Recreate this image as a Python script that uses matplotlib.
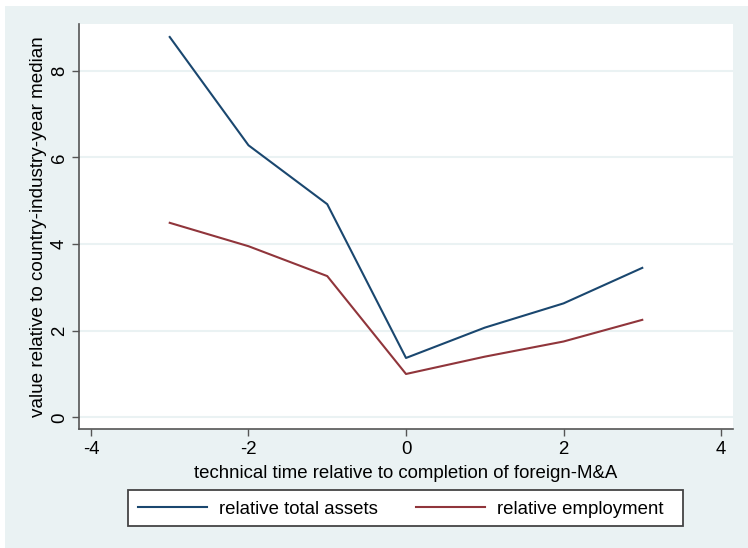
"""Relative total assets and employment around foreign M&A completion."""

import matplotlib

matplotlib.use("Agg")
import matplotlib.pyplot as plt
from matplotlib.patches import Rectangle

BG = "#eaf2f3"
NAVY = "#1a476f"
MAROON = "#90353b"
SPINE = "#555555"

event_time = [-3, -2, -1, 0, 1, 2, 3]
total_assets = [8.78, 6.28, 4.92, 1.37, 2.07, 2.63, 3.45]
employment = [4.49, 3.95, 3.26, 1.00, 1.40, 1.75, 2.25]
x_ticks = [-4, -2, 0, 2, 4]
y_ticks = [0, 2, 4, 6, 8]

plt.rcParams["font.family"] = ["Liberation Sans", "DejaVu Sans"]
plt.rcParams["axes.unicode_minus"] = False

W, H = 748, 548
fig = plt.figure(figsize=(W / 100, H / 100), dpi=100, facecolor="white")
fig.patches.append(
    Rectangle((5 / W, 0), 1, 1 - 6 / H, transform=fig.transFigure,
              facecolor=BG, edgecolor="none", zorder=-10)
)
ax = fig.add_axes([79 / W, 119 / H, 654 / W, 405 / H])
ax.set_facecolor("white")

ax.plot(event_time, total_assets, color=NAVY, linewidth=1.5, label="relative total assets")
ax.plot(event_time, employment, color=MAROON, linewidth=1.5, label="relative employment")

ax.set_xlim(-4.152, 4.152)
ax.set_ylim(-0.27, 9.08)
ax.set_xticks(x_ticks)
ax.set_yticks(y_ticks)
ax.set_yticklabels([str(v) for v in y_ticks], rotation=90, va="center")
ax.grid(True, axis="y", color=BG, linewidth=1.5)
ax.set_axisbelow(True)
ax.tick_params(direction="out", length=5, width=1, color=SPINE, labelsize=13.4, pad=3)
ax.tick_params(axis="x", pad=4)

for side in ("top", "right"):
    ax.spines[side].set_visible(False)
for side in ("left", "bottom"):
    ax.spines[side].set_color(SPINE)
    ax.spines[side].set_linewidth(1.2)

ax.set_xlabel("technical time relative to completion of foreign-M&A", fontsize=13.4, labelpad=5)
ax.set_ylabel("value relative to country-industry-year median", fontsize=13.6, labelpad=3)

# legend frame drawn separately so its width matches the original box
fig.patches.append(
    Rectangle((128 / W, 1 - 526 / H), 555 / W, 36 / H, transform=fig.transFigure,
              facecolor="white", edgecolor="#444444", linewidth=1.3, zorder=2)
)
leg = fig.legend(
    loc="center left",
    bbox_to_anchor=(138 / W, 1 - 509 / H),
    ncol=2,
    borderaxespad=0,
    borderpad=0,
    frameon=False,
    fontsize=13.4,
    handlelength=3.7,
    handletextpad=0.65,
    columnspacing=2.04,
)
leg.set_zorder(3)

fig.savefig("out.png", dpi=100, facecolor="white")
